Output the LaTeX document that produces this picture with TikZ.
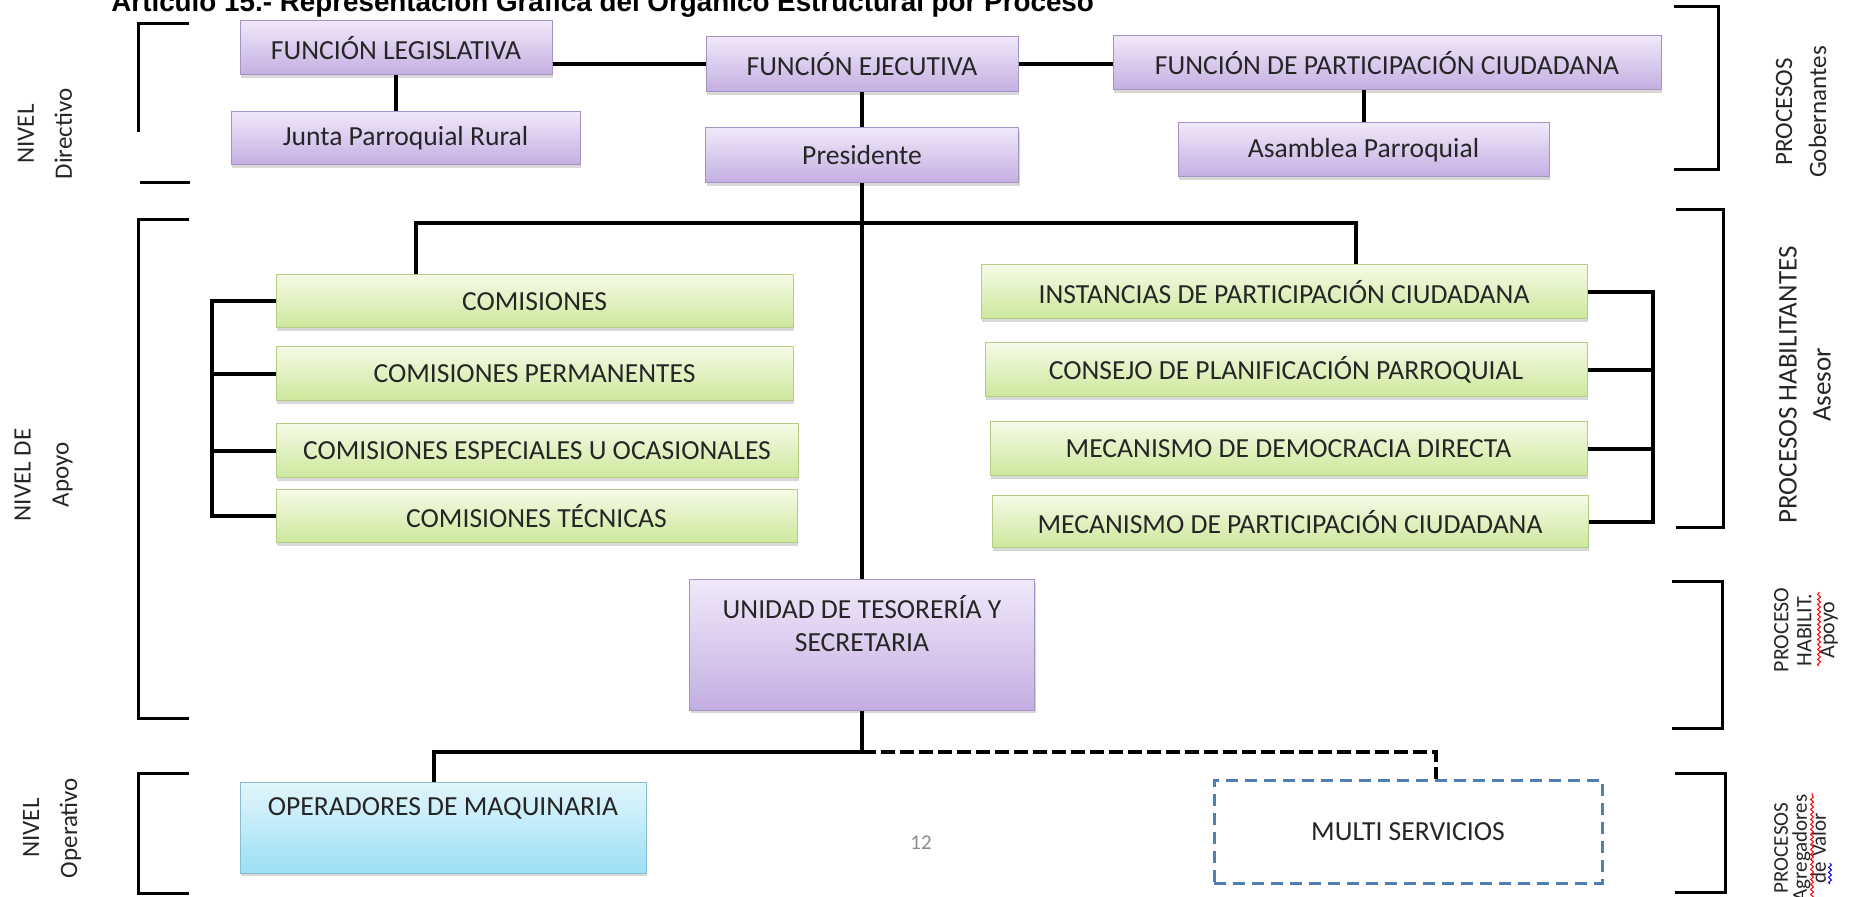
\documentclass[tikz,border=0pt]{standalone}
\usepackage{fontspec}
\setmainfont{Carlito}
\newfontfamily\titlefont{Liberation Sans}
\usepackage{xcolor}
\usepackage{tikz}
\usetikzlibrary{positioning,calc,shadows,decorations.pathmorphing}
\definecolor{lilatop}{HTML}{F0E8F9}
\definecolor{lilabot}{HTML}{C4AEE2}
\definecolor{lilaline}{HTML}{A593C2}
\definecolor{verdetop}{HTML}{F5FAE6}
\definecolor{verdebot}{HTML}{CCE89B}
\definecolor{verdeline}{HTML}{B3CD85}
\definecolor{celestetop}{HTML}{E2F6FC}
\definecolor{celestebot}{HTML}{9CDFF4}
\definecolor{celesteline}{HTML}{88BDD0}
\definecolor{multiline}{HTML}{4F7FB5}
\definecolor{texto}{HTML}{262626}

\begin{document}
\begin{tikzpicture}[x=0.5pt,y=-0.5pt,
  box/.style={draw=lilaline,line width=0.5pt,top color=lilatop,bottom color=lilabot,
    drop shadow={shadow xshift=0.6pt,shadow yshift=-1.4pt,fill=black!30},
    font=\fontsize{13.8}{16.5}\selectfont,text=texto,inner sep=0pt,align=center},
  comi/.style={box,draw=verdeline,top color=verdetop,bottom color=verdebot},
  oper/.style={box,draw=celesteline,top color=celestetop,bottom color=celestebot},
  multi/.style={draw=multiline,line width=1.5pt,dash pattern=on 6pt off 3.5pt,fill=white,
    font=\fontsize{13.8}{16.5}\selectfont,text=texto,inner sep=0pt},
  link/.style={line width=2pt},
  dlink/.style={line width=2pt,dash pattern=on 7pt off 2.5pt},
  brk/.style={line width=1.5pt},
  side/.style={rotate=90,align=center,font=\fontsize{12.5}{19}\selectfont,text=texto,inner sep=0pt},
  sidesm/.style={side,font=\fontsize{11}{11.5}\selectfont},
  wave/.style={line width=0.5pt,decorate,decoration={snake,segment length=2.5pt,amplitude=0.7pt}}
]
  \path[use as bounding box] (0,0) rectangle (1874,897);
  \clip (0,0) rectangle (1874,897);

  \node[anchor=base west,inner sep=0pt,font=\titlefont\bfseries\fontsize{13.9}{16}\selectfont] (titulo) at (111,12)
    {Artículo 15.- Representación Gráfica del Orgánico Estructural por Proceso};

  % nivel directivo
  \node[box,minimum width=156pt,minimum height=27pt] (fl) at (396,48) {FUNCIÓN LEGISLATIVA};
  \node[box,minimum width=174.5pt,minimum height=26.5pt] (junta) at (405.5,138.5) {Junta Parroquial Rural};
  \node[box,minimum width=156pt,minimum height=27.5pt] (fe) at (862,64.5) {FUNCIÓN EJECUTIVA};
  \node[box,minimum width=156.5pt,minimum height=27.5pt] (pres) at (862,155.5) {Presidente};
  \node[box,minimum width=274pt,minimum height=27pt] (fpc) at (1387,63) {FUNCIÓN DE PARTICIPACIÓN CIUDADANA};
  \node[box,minimum width=185.5pt,minimum height=27pt] (asam) at (1363.5,150) {Asamblea Parroquial};

  % nivel de apoyo
  \node[comi,minimum width=258.5pt,minimum height=26.5pt] (com) at (534.5,301.5) {COMISIONES};
  \node[comi,minimum width=258.5pt,minimum height=27pt] (perm) at (534.5,374) {COMISIONES PERMANENTES};
  \node[comi,minimum width=261pt,minimum height=27pt] (esp) at (537,451) {COMISIONES ESPECIALES U OCASIONALES};
  \node[comi,minimum width=260.5pt,minimum height=26.5pt] (tec) at (536.5,516.5) {COMISIONES TÉCNICAS};
  \node[comi,minimum width=303pt,minimum height=27pt] (inst) at (1284,292) {INSTANCIAS DE PARTICIPACIÓN CIUDADANA};
  \node[comi,minimum width=301pt,minimum height=27pt] (cons) at (1286,370) {CONSEJO DE PLANIFICACIÓN PARROQUIAL};
  \node[comi,minimum width=298.5pt,minimum height=27pt] (demo) at (1288.5,449) {MECANISMO DE DEMOCRACIA DIRECTA};
  \node[comi,minimum width=298pt,minimum height=26pt] (mpc) at (1290,522) {MECANISMO DE PARTICIPACIÓN CIUDADANA};
  \node[box,minimum width=172.5pt,minimum height=65pt] (unid) at (862,645) {UNIDAD DE TESORERÍA Y\\SECRETARIA\\\strut};

  % nivel operativo
  \node[oper,minimum width=203pt,minimum height=45.5pt] (oper) at (443,827.5) {OPERADORES DE MAQUINARIA\\\strut};
  \node[multi,minimum width=194pt,minimum height=51.5pt] (multi) at (1408,831.5) {MULTI SERVICIOS};
  \node[text=black!45,font=\fontsize{10.5}{12}\selectfont] (pag) at (921,843) {12};

  \coordinate (cbus) at (416,223);
  \coordinate (ibus) at (1356,223);
  \coordinate (lcomb) at (212,0);
  \coordinate (rcomb) at (1653,0);
  \coordinate (bbus) at (862,752);
  \coordinate (obus) at (434,752);
  \coordinate (mbus) at (1436,752);

  \draw[link] (fl.east |- fe.west) -- (fe.west);
  \draw[link] (fe.east) -- (fe.east -| fpc.west);
  \draw[link] (fl.south) -- (fl.south |- junta.north);
  \draw[link] (fe) -- (pres);
  \draw[link] (asam.north) -- (asam.north |- fpc.south);
  \draw[link] (pres) -- (unid);
  \draw[link] (com.north -| cbus) -- (cbus) -- (ibus) -- (ibus |- inst.north);
  \draw[link] (com.west) -- (com.west -| lcomb) -- (tec.west -| lcomb) -- (tec.west);
  \foreach \n in {perm,esp} \draw[link] (\n.west) -- (\n.west -| lcomb);
  \draw[link] (inst.east) -- (inst.east -| rcomb) -- (mpc.east -| rcomb) -- (mpc.east);
  \foreach \n in {cons,demo} \draw[link] (\n.east) -- (\n.east -| rcomb);
  \draw[link] (unid.south) -- (bbus) -- (obus) -- (obus |- oper.north);
  \draw[dlink] (bbus) -- (mbus) -- (mbus |- multi.north);

  % corchetes
  \draw[brk] (189,24) -- (138,24) -- (138,132);
  \draw[brk] (140,183) -- (190,183);
  \draw[brk] (189,220) -- (138,220) -- (138,718) -- (189,718);
  \draw[brk] (189,773) -- (138,773) -- (138,893) -- (189,893);
  \draw[brk] (1674,7) -- (1718,7) -- (1718,170) -- (1674,170);
  \draw[brk] (1676,210) -- (1723,210) -- (1723,528) -- (1676,528);
  \draw[brk] (1672,582) -- (1722,582) -- (1722,728) -- (1672,728);
  \draw[brk] (1675,773) -- (1725,773) -- (1725,892) -- (1675,892);

  \node[side] (dirlbl) at (45,134) {NIVEL\\Directivo};
  \node[side] (apolbl) at (43.5,475) {NIVEL DE\\Apoyo};
  \node[side] (opelbl) at (52,828) {NIVEL\\Operativo};
  \node[side,font=\fontsize{12.5}{17}\selectfont] (gobl) at (1801,112) {PROCESOS\\Gobernantes};
  \node[side,font=\fontsize{13.5}{17}\selectfont] (asel) at (1805,385) {PROCESOS HABILITANTES\\Asesor};
  \node[sidesm] (hablbl) at (1806,630) {PROCESO\\HABILIT.\\Apoyo};
  \node[side,font=\fontsize{10.5}{9.5}\selectfont] (agrlbl) at (1800,848) {PROCESOS\\Agregadores\\de Valor};
  \draw[wave,red] ($(hablbl.center)+(13,36)$) -- ($(hablbl.center)+(13,-38)$);
  \draw[wave,red] ($(agrlbl.center)+(12,53)$) -- ($(agrlbl.center)+(12,-55)$);
  \draw[wave,blue] ($(agrlbl.center)+(30,36)$) -- ($(agrlbl.center)+(30,15)$);
\end{tikzpicture}
\end{document}
